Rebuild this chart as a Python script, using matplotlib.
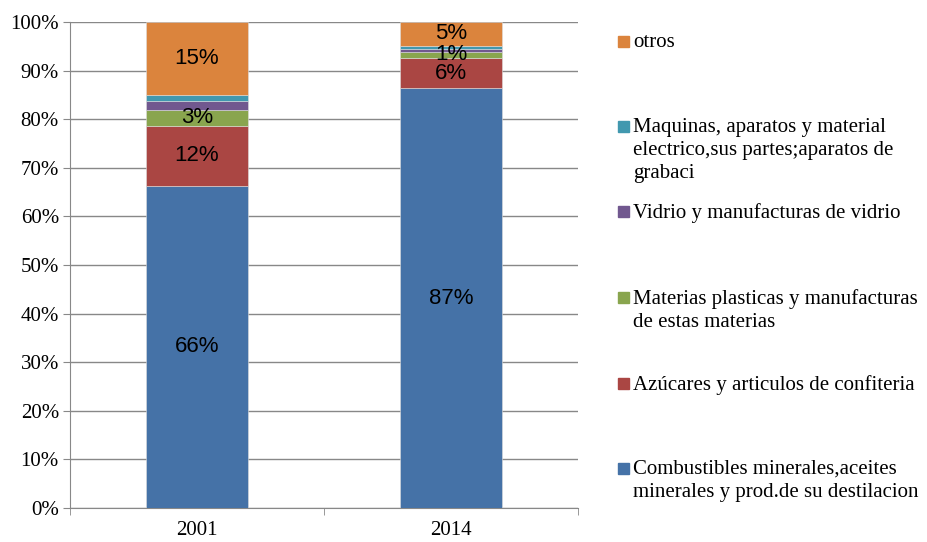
import numpy as np
import matplotlib.pyplot as plt
from matplotlib.patches import Rectangle

# Datos (porcentaje de cada categoria por año)
years = ['2001', '2014']
categories = [
    'Combustibles minerales,aceites\nminerales y prod.de su destilacion',
    'Azúcares y articulos de confiteria',
    'Materias plasticas y manufacturas\nde estas materias',
    'Vidrio y manufacturas de vidrio',
    'Maquinas, aparatos y material\nelectrico,sus partes;aparatos de\ngrabaci',
    'otros',
]
values = [
    [66.3, 86.4],   # combustibles
    [12.3, 6.2],    # azucares
    [3.3, 1.3],     # materias plasticas
    [1.8, 0.6],     # vidrio
    [1.3, 0.6],     # maquinas
    [15.0, 4.9],    # otros
]
labels = [
    ['66%', '87%'],
    ['12%', '6%'],
    ['3%', '1%'],
    ['', ''],
    ['', ''],
    ['15%', '5%'],
]
colors = ['#4572A7', '#AA4643', '#89A54E', '#71588F', '#4198AF', '#DB843D']

plt.rcParams['font.family'] = ['Liberation Serif']

fig = plt.figure(figsize=(9.27, 5.42), dpi=100)
ax = fig.add_axes([0.0755, 0.0627, 0.548, 0.8967])

x = np.arange(len(years))
bottom = np.zeros(len(years))
for vals, lab, col in zip(values, labels, colors):
    vals = np.array(vals)
    ax.bar(x, vals, 0.4, bottom=bottom, color=col, edgecolor='#dddddd',
           linewidth=0.4, zorder=3)
    for xi, b, v, t in zip(x, bottom, vals, lab):
        if t:
            ax.text(xi, b + v / 2, t, ha='center', va='center', fontsize=16,
                    family='Liberation Sans', zorder=4)
    bottom += vals

ax.set_xlim(-0.5, 1.5)
ax.set_ylim(0, 100)
ax.set_yticks(np.arange(0, 101, 10))
ax.set_yticklabels([f'{v}%' for v in range(0, 101, 10)], fontsize=15)
ax.set_xticks(x)
ax.set_xticklabels(years, fontsize=15)
ax.set_xticks([-0.5, 0.5, 1.5], minor=True)
ax.tick_params(axis='x', which='major', length=0, pad=9)
ax.tick_params(axis='x', which='minor', length=5, color='#888888')
ax.tick_params(axis='y', length=5, color='#888888', pad=3)
ax.grid(axis='y', color='#888888', linewidth=1, zorder=0)
for s in ['top', 'right']:
    ax.spines[s].set_visible(False)
for s in ['left', 'bottom']:
    ax.spines[s].set_color('#888888')

# Leyenda (orden inverso, como en Excel)
leg_y = [41, 126, 211, 297, 383, 468]
for i, (cat, col) in enumerate(zip(categories[::-1], colors[::-1])):
    yc = 1 - leg_y[i] / 542
    fig.patches.append(Rectangle((618 / 927, yc - 5.5 / 542), 11 / 927, 11 / 542,
                                 transform=fig.transFigure, color=col))
    fig.text(633 / 927, yc + 8 / 542, cat, ha='left', va='top', fontsize=15,
             linespacing=1.28)

fig.savefig('out.png', dpi=100)
